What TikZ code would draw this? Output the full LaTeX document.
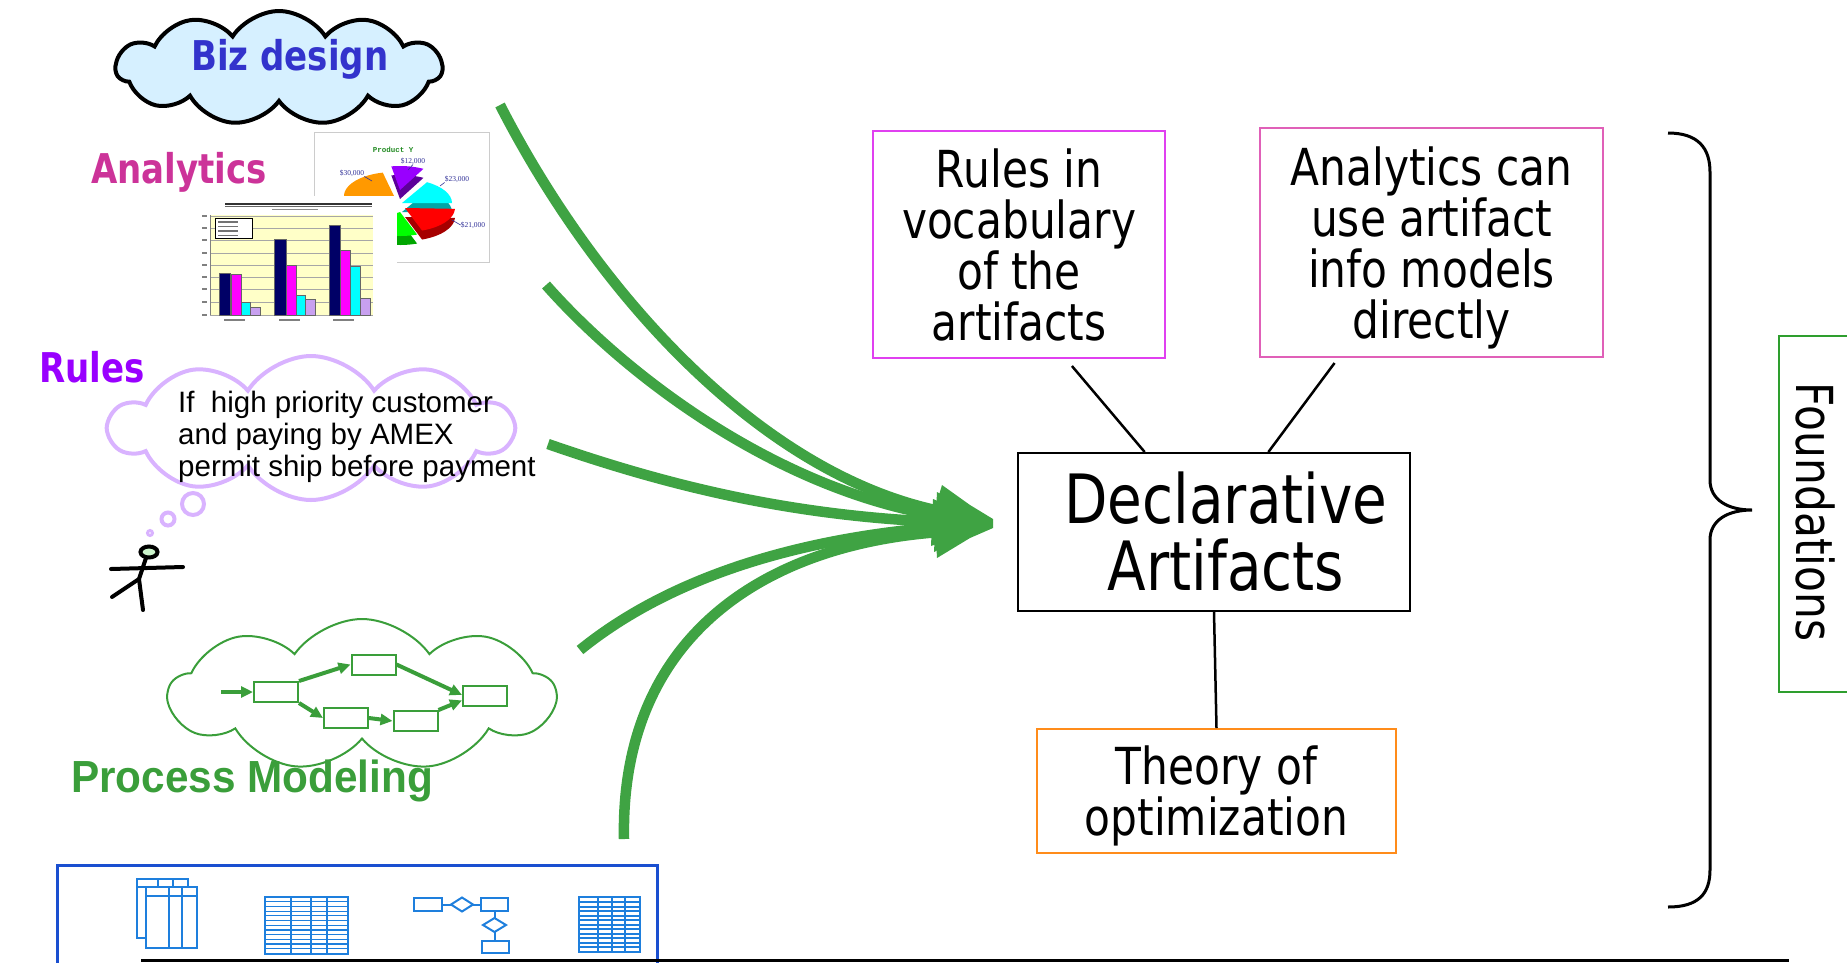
\documentclass[tikz,border=0pt]{standalone}
\usepackage{fontspec}
\setmainfont{DejaVu Sans}[FakeStretch=0.83]
\newfontfamily\arialf{Liberation Sans}
\newfontfamily\arialb{Liberation Sans}[FakeStretch=0.94]
\newfontfamily\monof{Liberation Mono}
\newfontfamily\seriff{Liberation Serif}
\usetikzlibrary{shapes.symbols,shapes.geometric,arrows.meta,calc}

\definecolor{arrowgreen}{HTML}{3FA343}
\definecolor{procgreen}{HTML}{3A9E3A}
\definecolor{bizblue}{HTML}{3333CC}
\definecolor{bizfill}{HTML}{D6F0FF}
\definecolor{anapink}{HTML}{CC3399}
\definecolor{rulepurple}{HTML}{9900FF}
\definecolor{lavender}{HTML}{D9B3FF}
\definecolor{boxmagenta}{HTML}{E040F0}
\definecolor{boxpink}{HTML}{E060B8}
\definecolor{boxorange}{HTML}{FF8C1A}
\definecolor{foundgreen}{HTML}{2E9E2E}
\definecolor{frameblue}{HTML}{1A4FD0}
\definecolor{iconblue}{HTML}{1E7FDD}
\definecolor{headgreen}{HTML}{CCF5CC}
\definecolor{chartyellow}{HTML}{FFFFC8}
\definecolor{barnavy}{HTML}{000066}
\definecolor{barmag}{HTML}{FF00FF}
\definecolor{barcyan}{HTML}{00FFFF}
\definecolor{barlav}{HTML}{C8A0F0}
\definecolor{labelblue}{HTML}{333399}
\definecolor{titlegreen}{HTML}{228B22}
\definecolor{pieorange}{HTML}{FF9900}
\definecolor{piegreen}{HTML}{00FF00}
\definecolor{piered}{HTML}{FF0000}

% one slice of the 3-D pie: centre x, centre y, from angle, to angle, top colour, side colour
\newcommand\pieslice[6]{%
  \fill[#6] (#1,#2+9) -- ++({cos(-#3)*50},{sin(-#3)*24})
    arc[start angle=-#3, end angle=-#4, x radius=50, y radius=24] -- cycle;
  \fill[#5] (#1,#2) -- ++({cos(-#3)*50},{sin(-#3)*24})
    arc[start angle=-#3, end angle=-#4, x radius=50, y radius=24] -- cycle;}

\begin{document}
\begin{tikzpicture}[x=1pt,y=-1pt,
  boxtext/.style={font=\fontsize{51}{51}\selectfont, align=center, inner sep=0, line width=2},
  topic/.style={font=\bfseries\fontsize{41}{41}\selectfont, inner sep=0, anchor=base west},
  bigflow/.style={arrowgreen, line width=10.5},
  link/.style={line width=2.5, black},
  pbox/.style={draw=procgreen, line width=2, minimum width=44, minimum height=20, inner sep=0},
  pflow/.style={procgreen, line width=4, -{Triangle[length=12,width=11]}},
  icon/.style={draw=iconblue, line width=2},
  tinylabel/.style={font=\seriff\fontsize{7.5}{8}\selectfont, text=labelblue, inner sep=0}]

\useasboundingbox (0,0) rectangle (1847,962);
\clip (0,0) rectangle (1847,962);

% ---------- Biz design cloud ----------
\node[cloud, cloud puffs=11, cloud puff arc=115, cloud ignores aspect,
      draw=black, line width=4, fill=bizfill, minimum width=326, minimum height=114,
      inner sep=0] (bizcloud) at (279,68) {};
\node[topic, text=bizblue] (biztext) at (191,70) {Biz design};

% ---------- Analytics with its two charts ----------
\node[topic, text=anapink] (analytics) at (91,183) {Analytics};

% pie chart
\filldraw[draw=black!20, fill=white, line width=1] (314,132) rectangle (489,262);
\node[font=\monof\bfseries\fontsize{7.5}{8}\selectfont, text=titlegreen, inner sep=0]
  (pietitle) at (393,150) {Product Y};
\pieslice{394}{196}{103}{215}{pieorange}{pieorange!75!black}
\pieslice{400}{190}{62}{100}{rulepurple}{rulepurple!60!black}
\pieslice{402}{203}{0}{60}{barcyan}{barcyan!65!black}
\pieslice{400}{212}{215}{290}{piegreen}{piegreen!65!black}
\pieslice{405}{208}{290}{358}{piered}{piered!65!black}
\node[tinylabel] (p30) at (352,173) {\$30,000};
\node[tinylabel] (p12) at (413,161) {\$12,000};
\node[tinylabel] (p23) at (457,179) {\$23,000};
\node[tinylabel] (p21) at (473,225) {\$21,000};
\draw[labelblue, line width=0.6] (p30.south east) -- (372,181);
\draw[labelblue, line width=0.6] (p12.south) -- (408,170);
\draw[labelblue, line width=0.6] (p23.south west) -- (440,186);
\draw[labelblue, line width=0.6] (p21.west) -- (452,220);

% bar chart
\fill[white] (199,196) rectangle (397,325);
\draw[black!80, line width=2] (225,203.5) -- (372,203.5);
\draw[black!60, line width=0.6] (225,206.5) -- (372,206.5);
\draw[black!45, line width=1] (272,209.5) -- (318,209.5);
\fill[chartyellow] (210,215) rectangle (373,315);
\foreach \yy in {216,228,240,253,265,277,289,302,315}{
  \draw[black!35, line width=0.6] (210,\yy) -- (373,\yy);
  \draw[black!50, line width=1.2] (202,\yy) -- (207,\yy);}
\draw[black!50, line width=0.8] (210,215) -- (210,315);
\filldraw[fill=white, draw=black, line width=0.6] (215,218) rectangle (252,238);
\foreach \yy in {222,226.5,231,235.5}
  \draw[black!55, line width=1.1] (218,\yy) -- (238,\yy);
\begin{scope}[draw=black!60, line width=0.5]
  \filldraw[fill=barnavy] (219,273) rectangle (230,315);
  \filldraw[fill=barmag]  (231,274) rectangle (241,315);
  \filldraw[fill=barcyan] (241,302) rectangle (250,315);
  \filldraw[fill=barlav]  (250,307) rectangle (260,315);
  \filldraw[fill=barnavy] (274,239) rectangle (286,315);
  \filldraw[fill=barmag]  (286,265) rectangle (296,315);
  \filldraw[fill=barcyan] (296,295) rectangle (305,315);
  \filldraw[fill=barlav]  (305,299) rectangle (315,315);
  \filldraw[fill=barnavy] (329,225) rectangle (340,315);
  \filldraw[fill=barmag]  (340,250) rectangle (350,315);
  \filldraw[fill=barcyan] (350,266) rectangle (360,315);
  \filldraw[fill=barlav]  (360,298) rectangle (370,315);
\end{scope}
\foreach \xx in {224,279,333}
  \draw[black!50, line width=1.2] (\xx,320) -- (\xx+21,320);

% ---------- Rules thought cloud and its thinker ----------
\node[topic, text=rulepurple] (rules) at (39,382) {Rules};
\node[cloud, cloud puffs=10, cloud puff arc=115, cloud ignores aspect,
      draw=lavender, line width=4, minimum width=402, minimum height=144,
      inner sep=0] (rulecloud) at (311,428) {};
\node[anchor=north west, inner sep=0, align=left,
      font=\arialf\fontsize{29.5}{32}\selectfont] (ruletext) at (178,391)
  {If\ \ high priority customer\\and paying by AMEX\\permit ship before payment};
\draw[lavender, line width=4] (193,504) circle[radius=11];
\draw[lavender, line width=4] (168,519) circle[radius=6.5];
\draw[lavender, line width=3] (150,533) circle[radius=2.5];
\begin{scope}[line width=4, line cap=round]
  \draw (111,569) -- (183,567);
  \draw (146,558) -- (139,579) -- (112,597);
  \draw (139,579) -- (143,610);
  \filldraw[fill=headgreen] (149,552) ellipse[x radius=8.5, y radius=5.5];
\end{scope}

% ---------- Process modeling cloud ----------
\node[cloud, cloud puffs=9, cloud puff arc=110, cloud ignores aspect,
      draw=procgreen, line width=2, minimum width=386, minimum height=152,
      inner sep=0] (proccloud) at (362,695) {};
\node[pbox] (p1) at (276,692) {};
\node[pbox] (p2) at (373.5,664.5) {};
\node[pbox] (p3) at (346,718) {};
\node[pbox] (p4) at (415.5,721) {};
\node[pbox] (p5) at (485,696) {};
\coordinate (pin) at (221,692);
\draw[pflow] (pin) -- (p1.west);
\draw[pflow] (p1.north east) -- (p2.west);
\draw[pflow] (p1.south east) -- (p3.west);
\draw[pflow] (p3.east) -- (p4.west);
\draw[pflow] (p4.north east) -- ($(p5.south west)!0.3!(p5.north west)$);
\draw[pflow] (p2.east) -- ($(p5.south west)!0.55!(p5.north west)$);
\node[font=\arialb\bfseries\fontsize{45}{45}\selectfont, text=procgreen, inner sep=0,
      anchor=base west] (proctext) at (71,792) {Process Modeling};

% ---------- data store strip ----------
\node[draw=frameblue, line width=3, minimum width=600, minimum height=150,
      anchor=north west, inner sep=0] (store) at (56,864) {};
% stacked tables
\filldraw[icon, fill=white] (137,879) rectangle (188,938);
\draw[icon] (137,887) -- (188,887) (158,879) -- (158,887) (173,879) -- (173,887);
\filldraw[icon, fill=white] (146,887) rectangle (197,948);
\draw[icon] (146,896) -- (197,896) (169,887) -- (169,948) (182,887) -- (182,948);
% ruled sheet
\draw[icon, line width=1.4] (265,897) rectangle (348,954);
\foreach \yy in {901.7,906.4,...,952}
  \draw[iconblue, line width=1.2] (265,\yy) -- (348,\yy);
\draw[icon, line width=1.4] (291,897) -- (291,954) (311,897) -- (311,954) (327,897) -- (327,954);
% small flow chart
\draw[icon] (414,898) rectangle (442,911);
\draw[icon] (442,904.5) -- (451,904.5);
\draw[icon] (451,904.5) -- (462,897.5) -- (473,904.5) -- (462,911.5) -- cycle;
\draw[icon] (473,904.5) -- (481,904.5);
\draw[icon] (481,898) rectangle (508,911);
\draw[icon] (494.5,911) -- (494.5,918);
\draw[icon] (494.5,918) -- (506,925) -- (494.5,932) -- (483,925) -- cycle;
\draw[icon] (494.5,932) -- (494.5,941);
\draw[icon] (482,941) rectangle (509,953);
% dense table
\draw[icon, line width=2.5] (579,897) rectangle (640,952);
\foreach \yy in {902,906.5,...,950}
  \draw[iconblue, line width=2] (579,\yy) -- (640,\yy);
\draw[icon, line width=2] (598,897) -- (598,952) (612,897) -- (612,952) (625,897) -- (625,952);

\coordinate (baseL) at (141,960);
\coordinate (baseR) at (1789,960);
\draw[line width=3] (baseL) -- (baseR);

% ---------- converging flow into the artifacts ----------
\coordinate (s1) at (500,105);
\coordinate (s2) at (546,285);
\coordinate (s3) at (548,444);
\coordinate (s4) at (580,650);
\coordinate (s5) at (624,839);
\coordinate (e1) at (940,511);
\coordinate (e2) at (940,516);
\coordinate (e3) at (940,522);
\coordinate (e4) at (940,527);
\coordinate (e5) at (940,532);
\draw[bigflow] (s1) .. controls (600,300) and (765,475) .. (e1);
\draw[bigflow] (s2) .. controls (630,380) and (780,490) .. (e2);
\draw[bigflow] (s3) .. controls (680,490) and (800,516) .. (e3);
\draw[bigflow] (s4) .. controls (660,585) and (780,540) .. (e4);
\draw[bigflow] (s5) .. controls (620,640) and (760,545) .. (e5);
% overlapping heads of the merged flow
\fill[arrowgreen] (942,485) -- (970,505) -- (993,519) -- (993,528) -- (970,538)
  -- (937,558) -- (936,540) -- (936,505) -- cycle;
\fill[arrowgreen] (937,492) -- (993,522) -- (934,552) -- cycle;
\fill[arrowgreen] (933,499) -- (993,524) -- (931,546) -- cycle;

% ---------- concept boxes ----------
\node[boxtext, draw=black, minimum width=392, minimum height=158,
      font=\fontsize{68}{67}\selectfont] (decl) at (1214,532)
  {\hspace*{24pt}Declarative\\\hspace*{24pt}Artifacts};
\node[boxtext, draw=boxmagenta, minimum width=292, minimum height=227] (vocab)
  at (1019,244.5) {Rules in\\vocabulary\\of the\\artifacts};
\node[boxtext, draw=boxpink, minimum width=343, minimum height=229, text depth=0pt] (anabox)
  at (1431.5,242.5) {Analytics can\\use artifact\\info models\\directly};
\node[boxtext, draw=boxorange, minimum width=359, minimum height=124, text depth=0pt] (theory)
  at (1216.5,791) {Theory of\\optimization};

\draw[link] ($(vocab.south west)!0.68!(vocab.south east)$) ++(0,7)
  -- ($(decl.north west)!0.324!(decl.north east)$);
\draw[link] ($(anabox.south west)!0.219!(anabox.south east)$) ++(0,5)
  -- ($(decl.north west)!0.638!(decl.north east)$);
\draw[link] (decl.south) -- (theory.north);

% ---------- foundations brace ----------
\draw[line width=3] (1668,133) .. controls (1698,133) and (1710,148) .. (1710,172)
  -- (1710,480) .. controls (1710,500) and (1728,510) .. (1752,510)
  .. controls (1728,510) and (1710,520) .. (1710,540)
  -- (1710,870) .. controls (1710,894) and (1698,907) .. (1668,907);
\node[draw=foundgreen, line width=2, minimum width=100, minimum height=356,
      anchor=north west, inner sep=0] (found) at (1778,335) {};
\node[font=\fontsize{51}{51}\selectfont, rotate=-90, inner sep=0] (foundtext)
  at (1815,512) {Foundations};
\end{tikzpicture}
\end{document}
